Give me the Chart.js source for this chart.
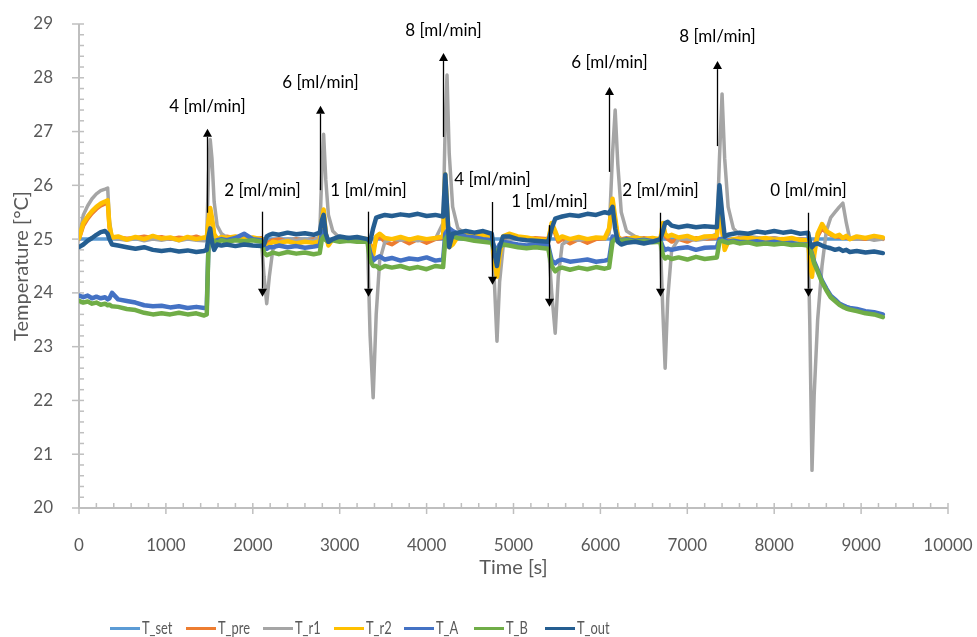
<!DOCTYPE html>
<html>
<head>
<meta charset="utf-8">
<title>Temperature response to flow steps</title>
<script src="https://cdn.jsdelivr.net/npm/chart.js@4/dist/chart.umd.min.js"></script>
<style>
  html, body { margin: 0; padding: 0; background: #fff; }
  #wrap { position: relative; width: 977px; height: 637px; }
  #legend { position: absolute; left: 0; top: 0; width: 977px; height: 637px; pointer-events: none; }
  .item { position: absolute; top: 620px; height: 16px; display: flex; align-items: center; }
  .swatch { width: 30px; height: 3px; }
  .name { font: 16.5px Lato, "Noto Sans", sans-serif; color: #595959; margin-left: 2px;
          transform: scaleX(0.78); transform-origin: left center; white-space: nowrap; }
</style>
</head>
<body>
<div id="wrap">
  <canvas id="chart" width="977" height="637"></canvas>
  <div id="legend"></div>
</div>
<script>
// Sample times [s] shared by the measured channels
const time_s = [
  0, 50, 100, 150, 200, 250, 300, 330, 350, 380,
  450, 550, 650, 750, 850, 950, 1050, 1150, 1250, 1350,
  1440, 1470, 1490, 1510, 1530, 1555, 1590, 1640, 1700, 1800,
  1900, 2000, 2100, 2130, 2160, 2190, 2230, 2300, 2400, 2500,
  2600, 2700, 2770, 2795, 2815, 2840, 2870, 2920, 3000, 3100,
  3200, 3320, 3350, 3385, 3420, 3460, 3520, 3600, 3700, 3800,
  3900, 4000, 4100, 4190, 4215, 4235, 4260, 4300, 4360, 4450,
  4550, 4650, 4750, 4780, 4810, 4840, 4880, 4950, 5050, 5150,
  5250, 5400, 5440, 5480, 5515, 5560, 5650, 5750, 5850, 5950,
  6050, 6100, 6140, 6170, 6200, 6240, 6300, 6400, 6500, 6600,
  6690, 6720, 6745, 6775, 6820, 6900, 7000, 7100, 7200, 7340,
  7370, 7400, 7430, 7470, 7530, 7600, 7700, 7800, 7900, 8000,
  8100, 8200, 8300, 8390, 8410, 8435, 8460, 8500, 8550, 8600,
  8650, 8700, 8750, 8790, 8830, 8870, 8950, 9050, 9150, 9250
];

// Set point (constant over the run)
const T_set_time = [0, 9250];
const T_set = [25.0, 25.0];

const T_pre = [
  25.00, 25.25, 25.38, 25.48, 25.56, 25.62, 25.66, 25.68, 25.20, 25.02,
  25.03, 25.01, 25.02, 25.05, 25.02, 25.04, 25.00, 25.03, 25.01, 25.05,
  25.00, 25.00, 25.30, 25.50, 25.35, 25.08, 25.02, 25.00, 25.05, 25.02,
  25.04, 25.00, 25.02, 24.95, 24.92, 24.95, 24.98, 25.00, 24.97, 25.00,
  24.98, 25.00, 24.98, 25.30, 25.50, 25.10, 24.92, 25.00, 25.00, 25.02,
  25.00, 25.00, 24.90, 24.80, 25.00, 25.05, 24.95, 24.90, 25.00, 24.92,
  25.00, 24.93, 25.00, 25.02, 26.00, 25.50, 24.90, 24.95, 25.02, 25.05,
  25.02, 25.05, 25.02, 24.70, 24.45, 24.80, 25.02, 25.05, 25.02, 25.00,
  25.02, 25.00, 25.25, 25.10, 24.95, 25.00, 24.92, 25.00, 24.93, 25.00,
  25.00, 25.15, 25.65, 25.35, 25.05, 25.00, 25.02, 25.00, 25.02, 25.00,
  25.00, 25.25, 25.05, 25.00, 24.95, 25.00, 24.95, 25.02, 25.00, 25.02,
  25.60, 25.15, 24.85, 24.98, 25.00, 25.02, 25.00, 25.02, 25.00, 25.02,
  24.98, 25.00, 25.00, 24.98, 24.88, 24.82, 24.90, 25.05, 25.20, 25.12,
  25.08, 25.05, 25.04, 25.02, 25.03, 25.00, 25.02, 25.00, 25.03, 25.00
];

const T_r1 = [
  25.00, 25.45, 25.62, 25.75, 25.84, 25.90, 25.93, 25.95, 25.35, 25.02,
  25.00, 24.98, 25.01, 24.97, 25.00, 24.98, 25.01, 24.97, 25.00, 24.98,
  24.97, 25.05, 26.20, 26.85, 26.50, 25.70, 25.25, 25.10, 25.03, 25.00,
  25.02, 24.98, 24.95, 24.30, 23.80, 24.30, 24.80, 24.95, 25.00, 24.98,
  25.00, 24.97, 25.05, 26.30, 26.95, 26.10, 25.45, 25.15, 25.02, 25.00,
  24.98, 24.95, 23.20, 22.05, 23.60, 24.60, 24.95, 25.00, 24.98, 25.00,
  24.97, 25.00, 25.00, 25.30, 27.20, 28.05, 26.60, 25.60, 25.20, 25.10,
  25.05, 25.03, 25.00, 24.20, 23.10, 24.20, 24.85, 25.00, 25.00, 24.98,
  24.97, 24.95, 24.00, 23.25, 24.30, 24.90, 25.00, 24.98, 25.00, 25.02,
  25.00, 25.10, 26.60, 27.40, 26.40, 25.50, 25.15, 25.05, 25.00, 25.00,
  24.95, 23.60, 22.60, 23.90, 24.80, 25.00, 25.00, 24.98, 25.00, 25.10,
  26.50, 27.70, 26.50, 25.60, 25.20, 25.08, 25.05, 25.03, 25.00, 25.02,
  25.00, 24.98, 25.00, 24.95, 23.40, 20.70, 22.10, 23.50, 24.50, 25.15,
  25.40, 25.50, 25.60, 25.67, 25.30, 25.00, 25.00, 25.02, 24.98, 25.00
];

const T_r2 = [
  25.02, 25.30, 25.42, 25.52, 25.60, 25.66, 25.70, 25.72, 25.25, 25.03,
  25.05, 24.99, 25.04, 25.00, 25.06, 25.01, 25.03, 24.98, 25.04, 25.00,
  25.03, 25.02, 25.35, 25.58, 25.40, 25.10, 25.00, 25.04, 25.02, 25.05,
  25.00, 25.03, 25.00, 24.90, 24.85, 24.90, 24.95, 24.93, 24.96, 24.92,
  24.95, 24.93, 24.96, 25.35, 25.55, 25.10, 24.88, 25.00, 25.02, 25.00,
  25.03, 25.00, 24.85, 24.70, 25.05, 25.10, 25.02, 25.00, 25.04, 24.99,
  25.03, 25.00, 25.02, 25.05, 26.20, 25.60, 24.85, 24.90, 25.05, 25.08,
  25.05, 25.08, 25.05, 24.60, 24.30, 24.70, 25.05, 25.10, 25.05, 25.03,
  25.00, 24.98, 25.30, 25.15, 25.00, 25.05, 25.00, 25.04, 25.00, 25.03,
  25.02, 25.20, 25.75, 25.40, 25.05, 24.98, 25.00, 25.03, 25.00, 25.02,
  25.00, 25.30, 25.10, 25.05, 25.08, 25.03, 25.06, 25.00, 25.05, 25.06,
  25.70, 25.20, 24.80, 24.95, 25.00, 25.00, 25.03, 25.00, 25.02, 24.99,
  25.00, 25.02, 24.98, 24.98, 24.60, 24.30, 24.70, 25.10, 25.28, 25.15,
  25.10, 25.05, 25.08, 25.02, 25.06, 25.00, 25.05, 25.02, 25.06, 25.03
];

const T_A = [
  23.95, 23.92, 23.95, 23.90, 23.93, 23.90, 23.92, 23.88, 23.90, 24.00,
  23.88, 23.85, 23.82, 23.77, 23.75, 23.76, 23.73, 23.75, 23.72, 23.74,
  23.72, 23.72, 24.90, 25.00, 24.98, 24.95, 24.98, 25.00, 24.98, 25.02,
  25.10, 25.00, 24.98, 24.85, 24.82, 24.85, 24.85, 24.88, 24.85, 24.87,
  24.84, 24.86, 24.88, 25.10, 25.15, 25.00, 24.95, 25.00, 24.98, 25.02,
  24.98, 24.97, 24.75, 24.60, 24.65, 24.68, 24.62, 24.65, 24.60, 24.64,
  24.62, 24.66, 24.60, 24.62, 25.10, 25.15, 25.20, 25.15, 25.10, 25.05,
  25.03, 25.00, 24.98, 24.85, 24.80, 24.90, 24.95, 24.93, 24.90, 24.88,
  24.90, 24.88, 24.60, 24.55, 24.60, 24.62, 24.58, 24.60, 24.62, 24.58,
  24.60, 24.62, 25.05, 25.02, 25.00, 24.98, 25.00, 24.97, 24.99, 24.96,
  24.98, 24.85, 24.80, 24.82, 24.80, 24.83, 24.85, 24.80, 24.84, 24.85,
  25.00, 25.00, 24.98, 24.95, 24.97, 24.95, 24.94, 24.96, 24.93, 24.95,
  24.92, 24.93, 24.90, 24.90, 24.85, 24.72, 24.58, 24.43, 24.23, 24.08,
  23.95, 23.88, 23.80, 23.77, 23.74, 23.72, 23.70, 23.66, 23.64, 23.60
];

const T_B = [
  23.85, 23.82, 23.84, 23.80, 23.82, 23.78, 23.80, 23.77, 23.78, 23.75,
  23.74, 23.70, 23.68, 23.63, 23.60, 23.62, 23.60, 23.63, 23.60, 23.62,
  23.58, 23.60, 24.90, 25.00, 24.95, 24.97, 24.93, 24.98, 24.95, 24.98,
  24.96, 24.98, 24.95, 24.75, 24.70, 24.72, 24.75, 24.72, 24.76, 24.73,
  24.75, 24.72, 24.74, 25.00, 25.05, 24.98, 24.95, 24.98, 24.95, 24.97,
  24.95, 24.95, 24.60, 24.50, 24.50, 24.45, 24.50, 24.47, 24.50, 24.45,
  24.48, 24.44, 24.50, 24.48, 25.00, 25.05, 25.10, 25.05, 25.02, 25.00,
  24.97, 24.95, 24.93, 24.80, 24.75, 24.85, 24.90, 24.88, 24.85, 24.83,
  24.85, 24.82, 24.50, 24.40, 24.45, 24.47, 24.43, 24.47, 24.44, 24.48,
  24.45, 24.47, 24.95, 25.00, 24.98, 24.97, 24.98, 24.95, 24.97, 24.94,
  24.95, 24.70, 24.64, 24.67, 24.63, 24.66, 24.62, 24.67, 24.63, 24.66,
  24.95, 24.97, 24.95, 24.93, 24.95, 24.92, 24.94, 24.90, 24.92, 24.90,
  24.92, 24.89, 24.90, 24.88, 24.82, 24.70, 24.55, 24.40, 24.20, 24.05,
  23.92, 23.85, 23.78, 23.74, 23.71, 23.69, 23.66, 23.62, 23.60, 23.55
];

const T_out = [
  24.85, 24.90, 24.97, 25.02, 25.08, 25.13, 25.15, 25.10, 25.00, 24.90,
  24.88, 24.85, 24.82, 24.85, 24.80, 24.78, 24.80, 24.77, 24.79, 24.76,
  24.78, 24.80, 25.05, 25.20, 24.95, 24.80, 24.90, 24.88, 24.90, 24.87,
  24.90, 24.88, 24.87, 24.90, 25.05, 25.08, 25.10, 25.08, 25.12, 25.09,
  25.11, 25.08, 25.12, 25.35, 25.45, 25.10, 24.95, 25.00, 25.05, 25.02,
  25.04, 25.00, 24.95, 25.20, 25.40, 25.42, 25.45, 25.43, 25.46, 25.44,
  25.47, 25.43, 25.45, 25.42, 26.20, 25.60, 24.85, 25.10, 25.12, 25.15,
  25.12, 25.15, 25.10, 24.75, 24.50, 24.85, 25.05, 25.05, 25.00, 24.98,
  24.97, 24.95, 25.20, 25.38, 25.40, 25.42, 25.45, 25.43, 25.47, 25.45,
  25.50, 25.48, 25.60, 25.20, 24.95, 24.90, 24.93, 24.95, 24.92, 24.95,
  25.00, 25.15, 25.30, 25.32, 25.25, 25.22, 25.25, 25.22, 25.24, 25.22,
  26.00, 25.50, 25.05, 25.08, 25.10, 25.12, 25.10, 25.14, 25.12, 25.15,
  25.12, 25.14, 25.10, 25.12, 24.95, 24.85, 24.90, 24.92, 24.88, 24.85,
  24.83, 24.80, 24.82, 24.78, 24.80, 24.76, 24.78, 24.75, 24.77, 24.74
];

// Flow-rate steps: when the flow was changed and the new rate
const flowTimes = [1473, 2106, 2773, 3326, 4189, 4753, 5408, 6099, 6686, 7342, 8389];
const flowLabels = ['4 [ml/min]', '2 [ml/min]', '6 [ml/min]', '1 [ml/min]', '8 [ml/min]',
                    '4 [ml/min]', '1 [ml/min]', '6 [ml/min]', '2 [ml/min]', '8 [ml/min]', '0 [ml/min]'];

// Arrow placement for each step, in temperature units (tail, head, label)
const arrowTail  = [25.49, 25.51, 25.91, 25.51, 26.90, 25.69, 25.26, 26.25, 25.49, 26.73, 25.49];
const arrowHead  = [27.05, 23.93, 27.48, 23.93, 28.46, 24.15, 23.74, 27.83, 23.93, 28.31, 23.93];
const labelLevel = [27.46, 25.91, 27.92, 25.91, 28.87, 26.10, 25.69, 28.28, 25.90, 28.76, 25.90];

const FONT = 'Lato, "Noto Sans", sans-serif';
const GREY_TEXT = '#595959';
const AXIS_GREY = '#bfbfbf';

const series = [
  { label: 'T_set', t: T_set_time, v: T_set, color: '#5B9BD5', width: 3.5, order: 7 },
  { label: 'T_pre', t: time_s,     v: T_pre, color: '#ED7D31', width: 4,   order: 6 },
  { label: 'T_r1',  t: time_s,     v: T_r1,  color: '#A5A5A5', width: 3.5, order: 5 },
  { label: 'T_r2',  t: time_s,     v: T_r2,  color: '#FFC000', width: 4.5, order: 4 },
  { label: 'T_A',   t: time_s,     v: T_A,   color: '#4472C4', width: 4.5, order: 3 },
  { label: 'T_B',   t: time_s,     v: T_B,   color: '#70AD47', width: 4.5, order: 2 },
  { label: 'T_out', t: time_s,     v: T_out, color: '#255E91', width: 4.5, order: 1 }
];

// Axis lines with cross major ticks and inside minor ticks
const axesPlugin = {
  id: 'axesWithTicks',
  beforeDatasetsDraw(chart) {
    const { ctx, chartArea: a, scales: { x, y } } = chart;
    ctx.save();
    ctx.strokeStyle = AXIS_GREY;
    ctx.lineWidth = 1.5;
    for (let i = 0; i <= 50; i++) {
      const px = x.getPixelForValue(i * 200);
      const major = i % 5 === 0;
      ctx.beginPath();
      ctx.moveTo(px, a.bottom - 5);
      ctx.lineTo(px, a.bottom + (major ? 6 : 0));
      ctx.stroke();
    }
    for (let i = 0; i <= 45; i++) {
      const py = y.getPixelForValue(20 + i * 0.2);
      const major = i % 5 === 0;
      ctx.beginPath();
      ctx.moveTo(a.left - (major ? 7 : 0), py);
      ctx.lineTo(a.left + 5, py);
      ctx.stroke();
    }
    ctx.lineWidth = 2;
    ctx.beginPath();
    ctx.moveTo(a.left, a.top);
    ctx.lineTo(a.left, a.bottom);
    ctx.lineTo(a.right, a.bottom);
    ctx.stroke();
    ctx.restore();
  }
};

// Arrows and flow-rate labels at every step
const flowPlugin = {
  id: 'flowSteps',
  afterDatasetsDraw(chart) {
    const { ctx, scales: { x, y } } = chart;
    ctx.save();
    ctx.strokeStyle = '#000';
    ctx.fillStyle = '#000';
    ctx.lineWidth = 1.3;
    ctx.font = '17px ' + FONT;
    ctx.textAlign = 'center';
    ctx.textBaseline = 'middle';
    flowTimes.forEach((t, i) => {
      const px = Math.round(x.getPixelForValue(t)) + 0.5;
      const y0 = y.getPixelForValue(arrowTail[i]);
      const y1 = y.getPixelForValue(arrowHead[i]);
      const dir = y1 < y0 ? -1 : 1;
      const head = 8;
      ctx.beginPath();
      ctx.moveTo(px, y0);
      ctx.lineTo(px, y1 - dir * head);
      ctx.stroke();
      ctx.beginPath();
      ctx.moveTo(px, y1);
      ctx.lineTo(px - 4.5, y1 - dir * head);
      ctx.lineTo(px + 4.5, y1 - dir * head);
      ctx.closePath();
      ctx.fill();
      ctx.fillText(flowLabels[i], px, y.getPixelForValue(labelLevel[i]));
    });
    ctx.restore();
  }
};

const chart = new Chart(document.getElementById('chart'), {
  type: 'line',
  data: {
    datasets: series.map(s => ({
      label: s.label,
      data: s.t.map((t, i) => ({ x: t, y: s.v[i] })),
      borderColor: s.color,
      backgroundColor: s.color,
      borderWidth: s.width,
      borderJoinStyle: 'round',
      borderCapStyle: 'round',
      pointRadius: 0,
      tension: 0,
      order: s.order
    }))
  },
  options: {
    responsive: false,
    animation: false,
    events: [],
    layout: { padding: { top: 24, right: 29, bottom: 50, left: 0 } },
    plugins: { legend: { display: false }, tooltip: { enabled: false } },
    scales: {
      x: {
        type: 'linear', min: 0, max: 10000,
        grid: { display: false }, border: { display: false },
        ticks: { stepSize: 1000, color: GREY_TEXT, font: { family: FONT, size: 17 }, padding: 19, maxRotation: 0,
                 callback: v => String(v) },
        title: { display: true, text: 'Time [s]', color: GREY_TEXT, font: { family: FONT, size: 20 }, padding: { top: 0, bottom: 7 } },
        afterFit(scale) { scale.height = 79; scale.paddingLeft = 0; scale.paddingRight = 0; }
      },
      y: {
        min: 20, max: 29,
        grid: { display: false }, border: { display: false },
        ticks: { stepSize: 1, color: GREY_TEXT, font: { family: FONT, size: 17 }, padding: 18 },
        title: { display: true, text: 'Temperature [°C]', color: GREY_TEXT, font: { family: FONT, size: 20 }, padding: { top: 10, bottom: 0 } },
        afterFit(scale) { scale.width = 79; scale.paddingTop = 0; scale.paddingBottom = 0; }
      }
    }
  },
  plugins: [axesPlugin, flowPlugin]
});

// Legend row below the plot
const legendLeft = [110, 186, 263, 334, 404, 474, 545];
const legendEl = document.getElementById('legend');
series.forEach((s, i) => {
  const item = document.createElement('div');
  item.className = 'item';
  item.style.left = legendLeft[i] + 'px';
  const sw = document.createElement('div');
  sw.className = 'swatch';
  sw.style.background = s.color;
  const name = document.createElement('span');
  name.className = 'name';
  name.textContent = s.label;
  item.appendChild(sw);
  item.appendChild(name);
  legendEl.appendChild(item);
});
</script>
</body>
</html>
